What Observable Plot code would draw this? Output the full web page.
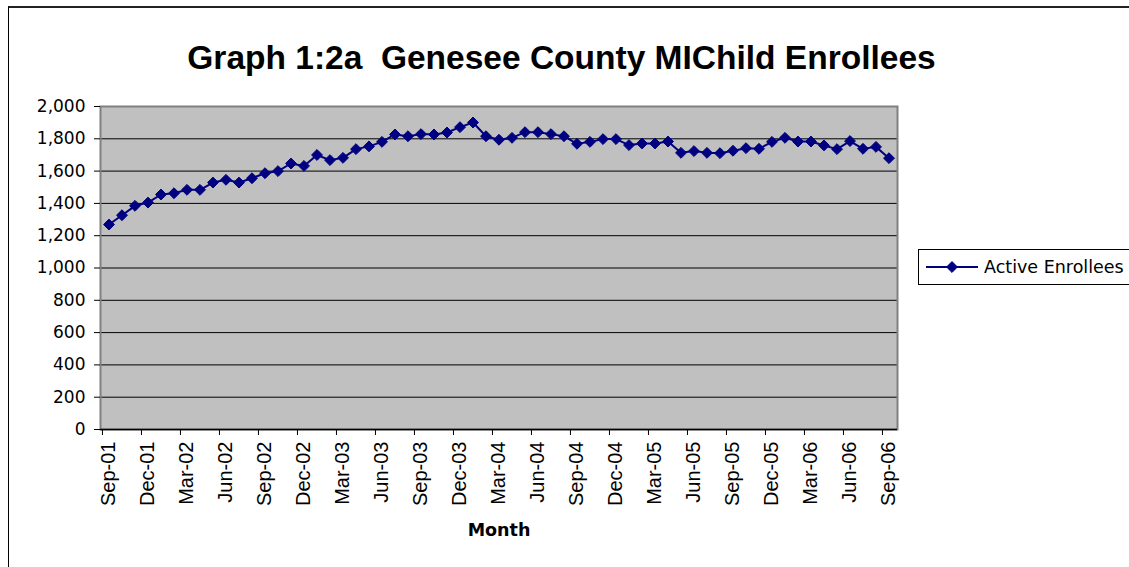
<!DOCTYPE html>
<html>
<head>
<meta charset="utf-8">
<script src="https://cdn.jsdelivr.net/npm/d3@7"></script>
<script src="https://cdn.jsdelivr.net/npm/@observablehq/plot@0.6"></script>
<style>
  html, body { margin: 0; padding: 0; background: #fff; }
  #wrap { position: relative; width: 1129px; height: 567px; overflow: hidden; background: #fff; }
  #outer { position: absolute; left: 8px; top: 6px; width: 1200px; height: 700px;
           border-left: 1px solid #000; border-top: 2px solid #222; }
  #title { position: absolute; left: 0; top: 41px; width: 1123px; text-align: center;
           font-family: "Liberation Sans", Arial, sans-serif; font-weight: bold; font-size: 33.5px; line-height: 33.5px; color: #000; }
  #xlabel { position: absolute; left: 0; top: 522px; width: 998px; text-align: center;
            font-family: "DejaVu Sans", sans-serif; font-weight: bold; font-size: 17.5px; line-height: 17.5px; color: #000; }
  #legend { position: absolute; left: 918px; top: 249px; width: 260px; height: 34px;
            border: 1px solid #000; background: #fff; display: flex; align-items: center;
            font-family: "DejaVu Sans", sans-serif; font-size: 17.5px; color: #000; }
  #legend svg { display: block; margin-left: 6px; margin-right: 5px; }
  #chart { position: absolute; left: 0; top: 0; }
</style>
</head>
<body>
<div id="wrap">
  <div id="outer"></div>
  <div id="chart"></div>
  <div id="title">Graph 1:2a&nbsp; Genesee County MIChild Enrollees</div>
  <div id="xlabel">Month</div>
  <div id="legend"></div>
</div>
<script>
const months = [
  "Sep-01","Oct-01","Nov-01","Dec-01","Jan-02","Feb-02","Mar-02","Apr-02","May-02","Jun-02","Jul-02","Aug-02",
  "Sep-02","Oct-02","Nov-02","Dec-02","Jan-03","Feb-03","Mar-03","Apr-03","May-03","Jun-03","Jul-03","Aug-03",
  "Sep-03","Oct-03","Nov-03","Dec-03","Jan-04","Feb-04","Mar-04","Apr-04","May-04","Jun-04","Jul-04","Aug-04",
  "Sep-04","Oct-04","Nov-04","Dec-04","Jan-05","Feb-05","Mar-05","Apr-05","May-05","Jun-05","Jul-05","Aug-05",
  "Sep-05","Oct-05","Nov-05","Dec-05","Jan-06","Feb-06","Mar-06","Apr-06","May-06","Jun-06","Jul-06","Aug-06",
  "Sep-06"
];
const enrollees = [
  1269,1327,1385,1405,1455,1463,1484,1484,1529,1546,
  1529,1556,1587,1600,1647,1632,1700,1668,1682,1736,
  1753,1781,1827,1816,1829,1827,1839,1872,1901,1816,
  1794,1806,1841,1841,1829,1816,1769,1781,1798,1798,
  1761,1771,1771,1783,1713,1724,1713,1711,1726,1742,
  1738,1781,1806,1783,1783,1759,1736,1786,1738,1750,
  1680
];
const xTickLabels = ["Sep-01","Dec-01","Mar-02","Jun-02","Sep-02","Dec-02","Mar-03","Jun-03","Sep-03","Dec-03",
  "Mar-04","Jun-04","Sep-04","Dec-04","Mar-05","Jun-05","Sep-05","Dec-05","Mar-06","Jun-06","Sep-06"];
const yTicks = [0,200,400,600,800,1000,1200,1400,1600,1800,2000];
const seriesName = "Active Enrollees";
const navy = "#000080";

const data = months.map((m, i) => ({month: m, value: enrollees[i]}));

const W = 1129, H = 567, ML = 100, MR = 232, MT = 106, MB = 138;
const bw = (W - ML - MR) / months.length;

const chart = Plot.plot({
  width: W, height: H,
  marginLeft: ML, marginRight: MR, marginTop: MT, marginBottom: MB,
  style: {fontFamily: "DejaVu Sans, sans-serif", fontSize: "17px", color: "#000", background: "transparent", overflow: "visible"},
  x: {type: "band", domain: months, padding: 0, label: null},
  y: {domain: [0, 2000], label: null},
  marks: [
    Plot.frame({fill: "#c0c0c0"}),
    Plot.ruleY(yTicks.filter(d => d > 0 && d < 2000), {stroke: "#000", strokeWidth: 1}),
    Plot.frame({stroke: "#808080", strokeWidth: 2}),
    Plot.ruleY([0], {stroke: "#000", strokeWidth: 1.5}),
    Plot.axisY({ticks: yTicks, tickSize: 6, tickPadding: 9, tickFormat: d3.format(","), fontSize: 17, label: null, stroke: "#000"}),
    Plot.axisX({ticks: xTickLabels, tickSize: 0, tickPadding: 12, tickRotate: -90, fontSize: 20,
                fontFamily: "Liberation Sans, Arial, sans-serif", label: null}),
    Plot.axisX({ticks: xTickLabels, tickSize: 6, tickFormat: () => "", dx: -bw / 2, label: null, stroke: "#000"}),
    Plot.line(data, {x: "month", y: "value", stroke: navy, strokeWidth: 2}),
    Plot.dot(data, {x: "month", y: "value", symbol: "diamond2", r: 4.9, fill: navy, stroke: navy, strokeWidth: 1})
  ]
});
document.getElementById("chart").appendChild(chart);

// legend
const leg = document.getElementById("legend");
const ls = d3.create("svg").attr("width", 54).attr("height", 20);
ls.append("line").attr("x1", 1).attr("x2", 53).attr("y1", 10).attr("y2", 10).attr("stroke", navy).attr("stroke-width", 2);
ls.append("path").attr("d", d3.symbol(d3.symbolDiamond2, Math.PI * 4.9 * 4.9)()).attr("transform", "translate(27,10)")
  .attr("fill", navy).attr("stroke", navy);
leg.appendChild(ls.node());
const t = document.createElement("span");
t.textContent = seriesName;
leg.appendChild(t);
</script>
</body>
</html>
